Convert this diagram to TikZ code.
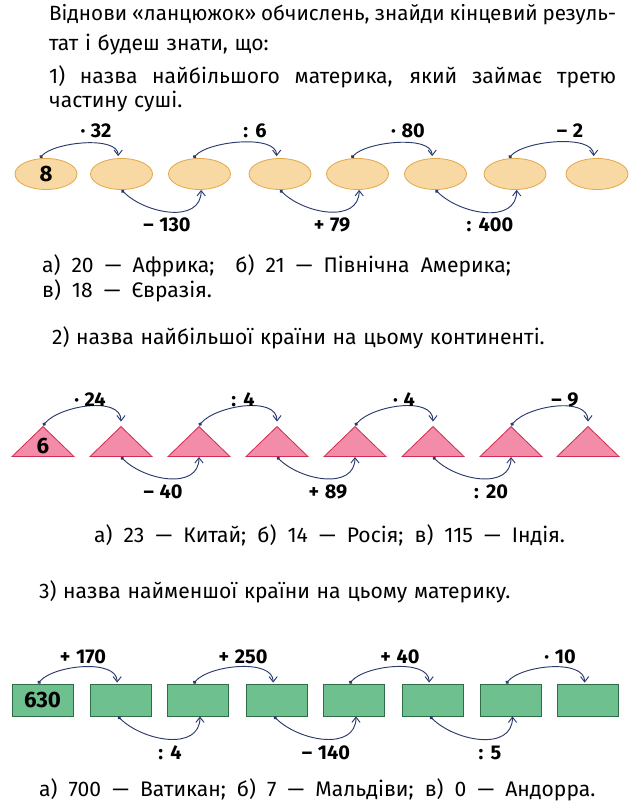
\documentclass[tikz,border=0pt]{standalone}
\usepackage{fontspec}
\setmainfont[WordSpace={1.2}]{Fira Sans}
\usetikzlibrary{shapes.geometric, arrows.meta}
\definecolor{peach}{HTML}{F8D9A4}
\definecolor{peachline}{HTML}{E2A84E}
\definecolor{rose}{HTML}{F28CA8}
\definecolor{roseline}{HTML}{CF2E52}
\definecolor{leaf}{HTML}{6FC08F}
\definecolor{leafline}{HTML}{2E6B47}
\definecolor{navy}{HTML}{2B3A6B}
\newcommand{\widegaps}{\spaceskip=9.5pt\relax}
\newcommand{\tightgaps}{\spaceskip=3pt plus 30pt\relax}

\begin{document}
\begin{tikzpicture}[x=0.03cm, y=0.03cm, font=\fontsize{18}{21}\selectfont,
    oval/.style={ellipse, draw=peachline, fill=peach, line width=0.7pt, minimum width=1.86cm, minimum height=0.93cm, inner sep=0pt},
    tri/.style={isosceles triangle, shape border rotate=90, isosceles triangle stretches, draw=roseline, fill=rose, line width=0.7pt, minimum width=1.86cm, minimum height=0.9cm, inner sep=0pt, anchor=lower side},
    cell/.style={rectangle, draw=leafline, fill=leaf, line width=0.7pt, minimum width=1.83cm, minimum height=0.96cm, inner sep=0pt},
    link/.style={draw=navy, line width=0.8pt, {Circle[length=3pt]}-{Straight Barb[length=4.5pt, width=7pt]}},
    archup/.style={out=50, in=90, looseness=#1},
    archdown/.style={out=-45, in=-90, looseness=1.1},
    op/.style={font=\fontsize{17}{19}\selectfont\bfseries},
    num/.style={font=\fontsize{19}{21}\selectfont\bfseries},
    answer/.style={anchor=west}]
  \useasboundingbox (0,0) rectangle (634,812);

  % умова
  \node[anchor=west] (head1) at (45,797) {\fontsize{17.6}{20}\selectfont\tightgaps\makebox[17.01cm][s]{Віднови «ланцюжок» обчислень, знайди кінцевий резуль-}};
  \node[anchor=west] (head2) at (45,767) {тат і будеш знати, що:};
  \node[anchor=west] (task1) at (45,735) {\makebox[17.01cm][s]{1) назва найбільшого материка, який займає третю}};
  \node[anchor=west] (task1b) at (45,710) {частину суші.};

  % ланцюжок 1: овали
  \node[oval, num] (e1) at (46,638) {8};
  \node[oval] (e2) at (121.5,638) {};
  \node[oval] (e3) at (199.5,638) {};
  \node[oval] (e4) at (280,638) {};
  \node[oval] (e5) at (357.5,638) {};
  \node[oval] (e6) at (435.5,638) {};
  \node[oval] (e7) at (515,638) {};
  \node[oval] (e8) at (597,638) {};
  \draw[link] ([xshift=-0.18cm]e1.north) to[archup=0.68] ([xshift=-0.1cm,yshift=0.06cm]e2.north);
  \draw[link] (e2.south) to[archdown] ([xshift=0.05cm]e3.south);
  \draw[link] ([xshift=-0.18cm]e3.north) to[archup=0.68] ([xshift=-0.1cm,yshift=0.06cm]e4.north);
  \draw[link] (e4.south) to[archdown] ([xshift=0.05cm]e5.south);
  \draw[link] ([xshift=-0.18cm]e5.north) to[archup=0.68] ([xshift=-0.1cm,yshift=0.06cm]e6.north);
  \draw[link] (e6.south) to[archdown] ([xshift=0.05cm]e7.south);
  \draw[link] ([xshift=-0.18cm]e7.north) to[archup=0.68] ([xshift=-0.1cm,yshift=0.06cm]e8.north);
  \node[op] (a1) at (96,681) {· 32};
  \node[op] (a2) at (167,587) {– 130};
  \node[op] (a3) at (255,681) {: 6};
  \node[op] (a4) at (332,587) {+ 79};
  \node[op] (a5) at (408,681) {· 80};
  \node[op] (a6) at (490,587) {: 400};
  \node[op] (a7) at (570,681) {– 2};

  \node[answer] (ans1) at (38,546) {\widegaps а) 20 — Африка;\quad б) 21 — Північна Америка;};
  \node[answer] (ans1b) at (38,521) {\widegaps в) 18 — Євразія.};
  \node[anchor=west] (task2) at (48,474) {2) назва найбільшої країни на цьому континенті.};

  % ланцюжок 2: трикутники
  \node[tri] (t1) at (43,355) {};
  \node[tri] (t2) at (121,355) {};
  \node[tri] (t3) at (199,355) {};
  \node[tri] (t4) at (277,355) {};
  \node[tri] (t5) at (355,355) {};
  \node[tri] (t6) at (433,355) {};
  \node[tri] (t7) at (511,355) {};
  \node[tri] (t8) at (588,355) {};
  \node[num] (six) at (43,366) {6};
  \draw[link] (t1.apex) to[archup=0.85] ([yshift=0.12cm]t2.apex);
  \draw[link] (t2.lower side) to[archdown] (t3.lower side);
  \draw[link] (t3.apex) to[archup=0.85] ([yshift=0.12cm]t4.apex);
  \draw[link] (t4.lower side) to[archdown] (t5.lower side);
  \draw[link] (t5.apex) to[archup=0.85] ([yshift=0.12cm]t6.apex);
  \draw[link] (t6.lower side) to[archdown] (t7.lower side);
  \draw[link] (t7.apex) to[archup=0.85] ([yshift=0.12cm]t8.apex);
  \node[op] (b1) at (90,412) {· 24};
  \node[op] (b2) at (163,320) {– 40};
  \node[op] (b3) at (243,412) {: 4};
  \node[op] (b4) at (328,320) {+ 89};
  \node[op] (b5) at (404,412) {· 4};
  \node[op] (b6) at (491,320) {: 20};
  \node[op] (b7) at (565,412) {– 9};

  \node[answer] (ans2) at (90,277) {\widegaps а) 23 — Китай; б) 14 — Росія; в) 115 — Індія.};
  \node[anchor=west] (task3) at (35,220) {3) назва найменшої країни на цьому материку.};

  % ланцюжок 3: прямокутники
  \node[cell, num] (r1) at (42.5,112) {630};
  \node[cell] (r2) at (120.5,112) {};
  \node[cell] (r3) at (198,112) {};
  \node[cell] (r4) at (276.5,112) {};
  \node[cell] (r5) at (354,112) {};
  \node[cell] (r6) at (432.5,112) {};
  \node[cell] (r7) at (510.5,112) {};
  \node[cell] (r8) at (588,112) {};
  \draw[link] ([xshift=-0.135cm]r1.north) to[archup=0.78] ([xshift=-0.1cm,yshift=0.03cm]r2.north);
  \draw[link] ([xshift=-0.075cm]r2.south) to[archdown] ([xshift=0.06cm]r3.south);
  \draw[link] ([xshift=-0.135cm]r3.north) to[archup=0.78] ([xshift=-0.1cm,yshift=0.03cm]r4.north);
  \draw[link] ([xshift=-0.075cm]r4.south) to[archdown] ([xshift=0.06cm]r5.south);
  \draw[link] ([xshift=-0.135cm]r5.north) to[archup=0.78] ([xshift=-0.1cm,yshift=0.03cm]r6.north);
  \draw[link] ([xshift=-0.075cm]r6.south) to[archdown] ([xshift=0.06cm]r7.south);
  \draw[link] ([xshift=-0.135cm]r7.north) to[archup=0.78] ([xshift=-0.1cm,yshift=0.03cm]r8.north);
  \node[op] (c1) at (83,155) {+ 170};
  \node[op] (c2) at (170,59) {: 4};
  \node[op] (c3) at (243,155) {+ 250};
  \node[op] (c4) at (326,59) {– 140};
  \node[op] (c5) at (400,155) {+ 40};
  \node[op] (c6) at (490,59) {: 5};
  \node[op] (c7) at (560,155) {· 10};

  \node[answer] (ans3) at (35,22) {\widegaps а) 700 — Ватикан; б) 7 — Мальдіви; в) 0 — Андорра.};
\end{tikzpicture}
\end{document}
